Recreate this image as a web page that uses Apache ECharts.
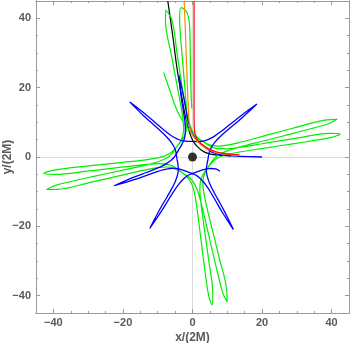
<!DOCTYPE html>
<html>
<head>
<meta charset="utf-8">
<script src="https://cdn.jsdelivr.net/npm/echarts@6/dist/echarts.min.js"></script>
<style>
  html, body { margin: 0; padding: 0; background: #fff; }
  #chart { width: 350px; height: 343px; }
</style>
</head>
<body>
<div id="chart"></div>
<script>
// tick positions (both axes)
var majorTicks = [-40, -20, 0, 20, 40];
var minorTicks = [-35, -30, -25, -15, -10, -5, 5, 10, 15, 25, 30, 35];

// bound orbit with long petals (green)
var greenOrbit = [
  [-0.20, 14.0], [-0.45, 20.0], [-0.65, 30.0], [-0.85, 38.0], [-1.70, 41.9],
  [-3.30, 43.1], [-3.70, 39.83], [-3.03, 29.85], [-2.19, 19.88], [-1.73, 13.89], [-1.60, 9.87],
  [-1.79, 7.80], [-2.15, 6.45], [-2.67, 5.37], [-3.29, 4.47], [-4.16, 3.45], [-5.00, 2.41],
  [-5.78, 1.62], [-6.74, 0.91], [-7.99, 0.31], [-10.0, -0.26], [-13.97, -0.88], [-19.94, -1.53],
  [-29.89, -2.56], [-39.82, -3.76], [-42.74, -4.72],
  [-39.69, -5.01], [-29.73, -4.02], [-19.80, -2.85], [-13.83, -2.19], [-9.81, -1.93], [-7.73, -2.04],
  [-6.38, -2.36], [-5.28, -2.84], [-4.35, -3.44], [-3.33, -4.25], [-2.30, -5.05], [-1.50, -5.81],
  [-0.77, -6.76], [-0.14, -8.00], [0.47, -9.99], [1.17, -13.95], [1.95, -19.90], [3.19, -29.83],
  [4.60, -39.74], [5.61, -42.63],
  [5.84, -39.57], [4.64, -29.64], [3.27, -19.73], [2.48, -13.78], [2.13, -9.77], [2.20, -7.69],
  [2.49, -6.33], [2.95, -5.22], [3.53, -4.28], [4.32, -3.23], [5.10, -2.18], [5.84, -1.36],
  [6.77, -0.60], [8.00, 0.06], [9.97, 0.72], [13.92, 1.51], [19.85, 2.44], [29.74, 3.92],
  [39.61, 5.57], [42.48, 6.65],
  [39.42, 6.81], [29.52, 5.36], [19.65, 3.75], [13.71, 2.82], [9.72, 2.37], [7.63, 2.39],
  [6.26, 2.65], [5.15, 3.08], [4.20, 3.63], [3.13, 4.40], [2.05, 5.16], [1.22, 5.88],
  [0.44, 6.79], [-0.25, 8.00], [-0.96, 9.95], [-1.85, 13.88], [-2.92, 19.79], [-4.40, 29.60],
  [-5.90, 39.50], [-7.69, 42.40],
  [-7.77, 39.24], [-6.08, 29.38], [-4.23, 19.55], [-3.15, 13.64], [-2.61, 9.66], [-2.58, 7.57],
  [-2.80, 6.20], [-3.21, 5.07], [-3.74, 4.10], [-4.50, 2.98], [-5.23, 1.84], [-5.92, 0.98],
  [-6.80, 0.17], [-7.98, -0.57], [-9.91, -1.36], [-13.79, -2.41], [-19.65, -3.71], [-29.43, -5.83],
  [-39.17, -8.11], [-41.96, -9.38],
  [-38.90, -9.34], [-29.11, -7.26], [-19.36, -5.01], [-13.50, -3.69], [-9.54, -2.99], [-7.46, -2.88],
  [-6.08, -3.04], [-4.94, -3.41], [-3.95, -3.90], [-2.86, -4.58], [-1.77, -5.26], [-0.90, -5.93],
  [-0.07, -6.80], [0.68, -7.97], [1.50, -9.89], [2.60, -13.76], [3.99, -19.60], [6.24, -29.34],
  [8.66, -39.05], [9.96, -41.83],
  [9.88, -38.76], [7.66, -29.00], [5.28, -19.29], [3.88, -13.45], [3.12, -9.50], [2.98, -7.42],
  [3.13, -6.04], [3.48, -4.89], [3.95, -3.90], [4.63, -2.78], [5.30, -1.65], [5.95, -0.77],
  [6.80, 0.08], [7.95, 0.86], [9.85, 1.71], [13.70, 2.90], [19.51, 4.41], [29.20, 6.88],
  [38.85, 9.51], [41.60, 10.87],
  [38.54, 10.72], [28.83, 8.30], [19.17, 5.70], [13.36, 4.17], [9.43, 3.33], [7.36, 3.15],
  [5.97, 3.26], [4.81, 3.58], [3.81, 4.04], [2.67, 4.70], [1.52, 5.34], [0.61, 5.97],
  [-0.26, 6.80], [-1.06, 7.93], [-2.40, 9.80], [-4.40, 13.30], [-6.40, 18.90], [-8.30, 24.40]
];

// bound orbit with short spikes (blue)
var blueOrbit = [
  [20.0, 0.0], [14.0, 0.20], [10.99, 0.35], [8.98, 0.52], [7.46, 0.78], [6.19, 1.15],
  [5.15, 1.62], [4.30, 2.24], [3.56, 2.83], [2.92, 3.42], [2.24, 3.96], [1.54, 4.60],
  [0.80, 5.34], [0.17, 6.30], [-0.39, 7.49], [-0.89, 8.96], [-1.38, 10.91], [-1.92, 13.87],
  [-2.63, 17.81], [-3.96, 23.67],
  [-3.31, 17.69], [-2.70, 13.74], [-2.25, 10.77], [-2.07, 8.76], [-2.07, 7.21], [-2.21, 5.90],
  [-2.49, 4.79], [-2.95, 3.85], [-3.41, 3.01], [-3.89, 2.26], [-4.31, 1.47], [-4.80, 0.66],
  [-5.40, -0.21], [-6.22, -1.01], [-7.29, -1.78], [-8.63, -2.54], [-10.47, -3.38], [-13.27, -4.47],
  [-17.01, -5.89], [-22.52, -8.29],
  [-16.77, -6.54], [-13.00, -5.20], [-10.16, -4.21], [-8.22, -3.66], [-6.70, -3.37], [-5.39, -3.26],
  [-4.24, -3.34], [-3.23, -3.61], [-2.33, -3.91], [-1.56, -4.22], [-0.77, -4.48], [0.11, -4.85],
  [1.06, -5.30], [1.98, -5.98], [2.91, -6.91], [3.87, -8.12], [4.99, -9.80], [6.51, -12.40],
  [8.51, -15.86], [11.75, -20.93],
  [9.11, -15.53], [7.19, -12.01], [5.76, -9.37], [4.91, -7.54], [4.39, -6.08], [4.07, -4.80],
  [3.97, -3.66], [4.08, -2.62], [4.23, -1.68], [4.42, -0.83], [4.55, 0.04], [4.75, 0.97],
  [5.02, 1.98], [5.54, 3.01], [6.29, 4.08], [7.31, 5.25], [8.76, 6.65], [11.05, 8.60],
  [14.11, 11.18], [18.52, 15.27],
  [13.67, 11.71], [10.55, 9.20], [8.20, 7.33], [6.55, 6.17], [5.21, 5.39], [4.01, 4.86],
  [2.90, 4.55], [1.86, 4.48], [0.91, 4.46], [0.07, 4.50], [-0.77, 4.48], [-1.71, 4.54],
  [-2.76, 4.64], [-3.85, 4.98], [-5.04, 5.56], [-6.35, 6.37], [-7.97, 7.59], [-10.26, 9.53],
  [-13.29, 12.14], [-18.03, 15.84],
  [-13.75, 11.62], [-10.77, 8.94], [-8.55, 6.92], [-7.14, 5.48], [-6.16, 4.28], [-5.44, 3.18],
  [-4.96, 2.14], [-4.72, 1.12], [-4.55, 0.18], [-4.45, -0.70], [-4.27, -1.57], [-4.15, -2.51],
  [-4.06, -3.56], [-4.20, -4.69], [-4.55, -5.97], [-5.11, -7.41], [-6.01, -9.21], [-7.50, -11.82],
  [-9.51, -15.28], [-12.29, -20.62],
  [-8.92, -15.63], [-6.83, -12.22], [-5.25, -9.67], [-4.09, -8.02], [-3.09, -6.84], [-2.13, -5.93],
  [-1.20, -5.27], [-0.24, -4.84], [0.65, -4.50], [1.48, -4.25], [2.29, -3.93], [3.19, -3.65],
  [4.21, -3.38], [5.35, -3.32], [6.66, -3.44], [7.90, -4.10]
];

// unbound paths coming in from the top
var blackPath = [
  [-7.1, 45], [-5.5, 33.6], [-4.5, 25.9], [-3.2, 18], [-2.0, 11.5], [-1.1, 8], [-0.4, 5.8],
  [0.4, 4.2], [1.4, 3.0], [2.7, 1.9], [4.2, 1.1], [6.0, 0.7], [8.5, 0.45], [11, 0.35]
];
var orangePath = [
  [-2.4, 45], [-2.0, 35], [-1.6, 24], [-1.2, 14], [-0.9, 9.5], [-0.4, 7.2], [0.5, 5.6],
  [1.6, 4.3], [3.0, 3.1], [4.5, 2.2], [6.2, 1.5], [8.5, 1.0], [11, 0.7], [13, 0.5]
];
var redPath = [
  [0.45, 45], [0.45, 30], [0.45, 15], [0.5, 9], [0.7, 6.8], [1.3, 5.2], [2.3, 4.0],
  [3.5, 3.1], [5.0, 2.2], [6.5, 1.6], [8.5, 1.1], [11, 0.8], [13.5, 0.6]
];
var hole = [[0, 0]];

var frameColor = '#9a9a9a';
var labelColor = '#5a5a5a';

function fmt(v) {
  return v < 0 ? '\u2212' + Math.abs(v) : String(v);
}

function frameAxis(pos, ticks, len, labels) {
  return {
    type: 'value',
    min: -45,
    max: 45,
    position: pos,
    offset: 0,
    axisLine: { show: true, onZero: false, lineStyle: { color: frameColor, width: 1 } },
    axisTick: { show: true, inside: true, length: len, customValues: ticks, lineStyle: { color: frameColor } },
    axisLabel: labels ? {
      show: true, customValues: ticks, formatter: fmt, color: labelColor,
      fontSize: 11, fontWeight: 'bold', fontFamily: 'Liberation Sans'
    } : { show: false },
    splitLine: { show: false }
  };
}

// thin gray axes through the origin
function zeroAxis() {
  return {
    type: 'value',
    min: -45,
    max: 45,
    axisLine: { show: true, onZero: true, lineStyle: { color: '#dcdcdc', width: 1 } },
    axisTick: { show: false },
    axisLabel: { show: false },
    splitLine: { show: false }
  };
}

var xBottom = frameAxis('bottom', majorTicks, 4, true);
xBottom.axisLabel.margin = 4;
xBottom.name = 'x/(2M)';
xBottom.nameLocation = 'middle';
xBottom.nameGap = 19;
xBottom.nameMoveOverlap = false;
xBottom.nameTextStyle = { color: labelColor, fontSize: 12, fontWeight: 'bold', fontFamily: 'Liberation Sans' };

var yLeft = frameAxis('left', majorTicks, 4, true);
yLeft.axisLabel.margin = 5;
yLeft.name = 'y/(2M)';
yLeft.nameLocation = 'middle';
yLeft.nameGap = 22;
yLeft.nameMoveOverlap = false;
yLeft.nameTextStyle = { color: labelColor, fontSize: 12, fontWeight: 'bold', fontFamily: 'Liberation Sans' };

function line(name, data, color, width) {
  return {
    name: name,
    type: 'line',
    data: data,
    showSymbol: false,
    smooth: 0.35,
    lineStyle: { color: color, width: width },
    silent: true
  };
}

var chart = echarts.init(document.getElementById('chart'));
chart.setOption({
  animation: false,
  grid: { left: 36, right: 1, top: 1, bottom: 30, outerBoundsMode: 'none' },
  xAxis: [
    xBottom,
    frameAxis('bottom', minorTicks, 2, false),
    frameAxis('top', majorTicks, 4, false),
    frameAxis('top', minorTicks, 2, false),
    zeroAxis()
  ],
  yAxis: [
    yLeft,
    frameAxis('left', minorTicks, 2, false),
    frameAxis('right', majorTicks, 4, false),
    frameAxis('right', minorTicks, 2, false),
    zeroAxis()
  ],
  series: [
    line('black', blackPath, '#000000', 1.2),
    line('green', greenOrbit, '#00ee00', 1.2),
    line('blue', blueOrbit, '#0000ff', 1.3),
    line('orange', orangePath, '#ff8800', 1.2),
    line('red', redPath, '#ff0000', 1.2),
    {
      type: 'scatter',
      data: hole,
      symbolSize: 9,
      z: 10,
      itemStyle: { color: '#000' },
      silent: true
    }
  ]
});
</script>
</body>
</html>
